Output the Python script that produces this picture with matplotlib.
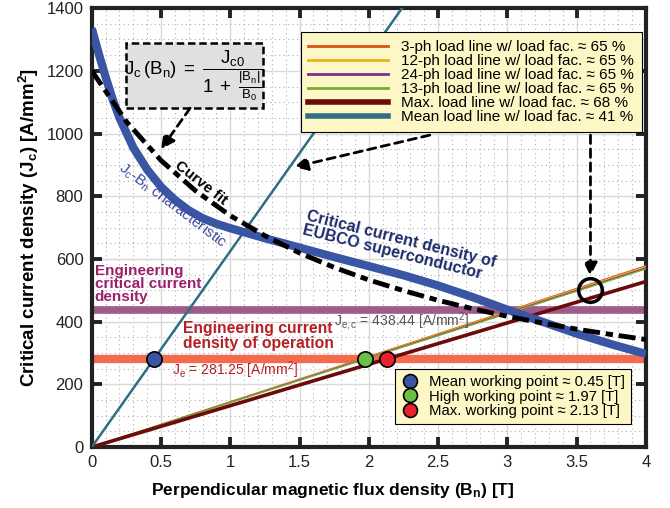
import numpy as np
import matplotlib
matplotlib.use("Agg")
import matplotlib.pyplot as plt
from matplotlib.lines import Line2D
from matplotlib.patches import Rectangle
from matplotlib.ticker import MultipleLocator, FormatStrFormatter

plt.rcParams["font.family"] = ["Liberation Sans", "DejaVu Sans"]
plt.rcParams["mathtext.fontset"] = "custom"
plt.rcParams["mathtext.rm"] = "Liberation Sans"
plt.rcParams["mathtext.it"] = "Liberation Sans"
plt.rcParams["mathtext.bf"] = "Liberation Sans:bold"

# measured Jc-Bn characteristic of the EUBCO tape
b_meas = [0, 0.05, 0.1, 0.15, 0.2, 0.3, 0.4, 0.5, 0.6, 0.7, 0.8, 0.9, 1.0,
          1.25, 1.5, 1.75, 2.0, 2.25, 2.5, 2.75, 3.0, 3.25, 3.5, 3.75, 4.0]
jc_meas = [1335, 1255, 1180, 1110, 1050, 955, 885, 830, 788, 755, 730, 712, 698,
           666, 636, 606, 577, 548, 515, 478, 438, 400, 362, 328, 297]

# curve fit Jc0 / (1 + |Bn|/B0), sampled
b_fit = [0, 0.25, 0.5, 0.75, 1.0, 1.25, 1.5, 1.75, 2.0, 2.25, 2.5, 2.75,
         3.0, 3.25, 3.5, 3.75, 4.0]
jc_fit = [1200, 1038, 914, 817, 738, 674, 619, 573, 533, 499, 468, 441,
          417, 396, 376, 359, 343]

# load lines: J at Bn = 0 and Bn = 4 T
b_load = [0, 4]
load_names = ["3-ph load line w/ load fac. \u2248 65 %",
              "12-ph load line w/ load fac. \u2248 65 %",
              "24-ph load line w/ load fac. \u2248 65 %",
              "13-ph load line w/ load fac. \u2248 65 %",
              "Max. load line w/ load fac. \u2248 68 %",
              "Mean load line w/ load fac. \u2248 41 %"]
load_end = [578, 575, 571, 568, 528, 2500]
load_colors = ["#d95319", "#edb120", "#7e2f8e", "#77ac30", "#6b0b0b", "#2f6e83"]
load_lw = [1.0, 1.0, 1.0, 1.0, 2.6, 1.8]

je_op = 281.25
je_crit = 438.44

wp_b = [0.45, 1.97, 2.13]
wp_names = ["Mean working point \u2248 0.45 [T]",
            "High working point \u2248 1.97 [T]",
            "Max. working point \u2248 2.13 [T]"]
wp_colors = ["#3a55a4", "#6bbf45", "#e8222a"]

fig = plt.figure(figsize=(6.7, 5.08), dpi=100)
ax = fig.add_axes([0.137, 0.120, 0.827, 0.864])

# horizontal engineering current densities
ax.axhline(je_crit, color="#9e5b8b", lw=5.5, zorder=2)
ax.axhline(je_op, color="#f36b4c", lw=6, zorder=2)

handles = []
for name, jend, c, lw in zip(load_names, load_end, load_colors, load_lw):
    ln, = ax.plot(b_load, [0, jend], color=c, lw=lw, zorder=3, label=name)
    handles.append(ln)

ax.plot(b_meas, jc_meas, color="#3a55a4", lw=6, zorder=4, solid_capstyle="butt")
ax.plot(b_fit, jc_fit, color="black", lw=3.5, ls=(0, (3.5, 1.2, 1.5, 1.2)), zorder=5)

for b, c in zip(wp_b, wp_colors):
    ax.plot(b, je_op, "o", ms=11, mfc=c, mec="black", mew=1.2, zorder=6)

ax.plot(3.6, 500, "o", ms=17, mfc="none", mec="black", mew=2.5, zorder=6)

ax.set_xlim(0, 4)
ax.set_ylim(0, 1400)
ax.xaxis.set_major_locator(MultipleLocator(0.5))
ax.xaxis.set_minor_locator(MultipleLocator(0.1))
ax.yaxis.set_major_locator(MultipleLocator(200))
ax.yaxis.set_minor_locator(MultipleLocator(50))
ax.xaxis.set_major_formatter(FormatStrFormatter("%g"))
ax.grid(which="major", color="#d9d9d9", lw=1.0, zorder=0)
ax.grid(which="minor", color="#b0b0b0", lw=0.8, ls=(0, (1, 3)), zorder=0)
ax.set_axisbelow(True)
ax.tick_params(which="major", direction="in", length=7, width=2.8,
               top=True, right=True, labelsize=12, colors="#222222", pad=6)
ax.tick_params(which="minor", length=0)
for s in ax.spines.values():
    s.set_linewidth(3)
    s.set_color("#222222")

ax.set_xlabel("Perpendicular magnetic flux density (B$_\\mathbf{n}$) [T]",
              fontsize=12.5, fontweight="bold")
ax.xaxis.set_label_coords(0.435, -0.078)
ax.set_ylabel("Critical current density (J$_\\mathbf{c}$) [A/mm$^\\mathbf{2}$]",
              fontsize=13.5, fontweight="bold", labelpad=4)

# formula box
ax.add_patch(Rectangle((0.245, 1081), 0.99, 207, fc="#e0e0e0", ec="black",
                       lw=1.8, ls=(0, (3, 1.5)), zorder=7))
ax.text(0.74, 1184, r"$\mathrm{J_c\,(B_n)\;=\;\dfrac{J_{c0}}{1\;+\;\frac{|B_n|}{B_0}}}$",
        fontsize=13.5, ha="center", va="center", zorder=8)

arrow = dict(arrowstyle="-|>", ls=(0, (3, 2)), lw=2, color="black",
             mutation_scale=20, shrinkA=0, shrinkB=0)
ax.annotate("", xy=(0.5, 950), xytext=(0.71, 1081), arrowprops=arrow, zorder=8)
ax.annotate("", xy=(1.46, 893), xytext=(2.44, 995), arrowprops=arrow, zorder=8)
ax.annotate("", xy=(3.6, 545), xytext=(3.6, 995), arrowprops=arrow, zorder=8)

# curve labels
ax.text(0.79, 842, "Curve fit", fontsize=11, fontweight="bold", rotation=-38,
        ha="center", va="center", rotation_mode="anchor", zorder=8)
ax.text(0.58, 772, "J$_c$-B$_n$ characteristic", fontsize=11, color="#3b4aa0",
        rotation=-37, ha="center", va="center", rotation_mode="anchor", zorder=8)
ax.text(2.22, 640, "Critical current density of\nEUBCO superconductor", fontsize=11.5,
        fontweight="bold", color="#1c2a6b", rotation=-14, ha="center", va="center",
        multialignment="left", rotation_mode="anchor", linespacing=0.95, zorder=8)
ax.text(0.02, 520, "Engineering\ncritical current\ndensity", fontsize=11,
        fontweight="bold", color="#9c1f6b", ha="left", va="center",
        linespacing=0.95, zorder=8)
ax.text(0.66, 354, "Engineering current\ndensity of operation", fontsize=11.3,
        fontweight="bold", color="#b52026", ha="left", va="center",
        linespacing=0.95, zorder=8)
ax.text(0.58, 246, "J$_e$ = 281.25 [A/mm$^2$]", fontsize=10, color="#b52026",
        ha="left", va="center", zorder=8)
ax.text(1.75, 399, "J$_{e,c}$ = 438.44 [A/mm$^2$]", fontsize=10, color="#555555",
        ha="left", va="center", zorder=8)

leg_style = dict(frameon=True, fancybox=False, framealpha=1, facecolor="#fcf7c5",
                 edgecolor="black", borderaxespad=0)
leg1 = ax.legend(handles=handles, loc="upper right", bbox_to_anchor=(0.993, 0.945),
                 handlelength=5.2, handletextpad=0.9, labelspacing=0.0,
                 borderpad=0.5, fontsize=11, **leg_style)
for lh, lw in zip(leg1.get_lines(), [2, 2, 2, 2, 4, 4]):
    lh.set_linewidth(lw)
leg1.get_frame().set_linewidth(0.8)
leg1.set_zorder(9)
ax.add_artist(leg1)

wp_handles = [Line2D([], [], ls="none", marker="o", ms=10, mfc=c, mec="black", mew=1.2)
              for c in wp_colors]
leg2 = ax.legend(wp_handles, wp_names, loc="lower right", bbox_to_anchor=(0.973, 0.052),
                 handlelength=1.2, handletextpad=0.7, labelspacing=0.05,
                 borderpad=0.4, fontsize=10.7, **leg_style)
leg2.get_frame().set_linewidth(0.8)
leg2.set_zorder(9)

fig.savefig("out.png", dpi=100)
